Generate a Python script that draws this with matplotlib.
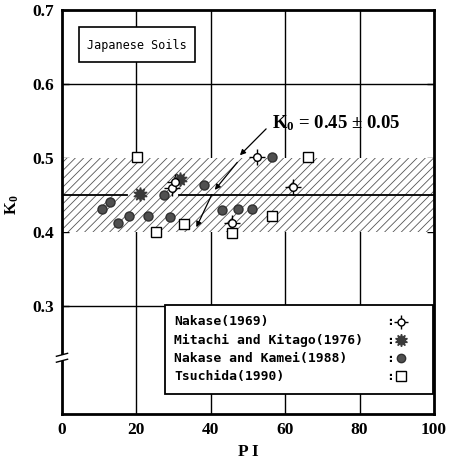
import matplotlib
matplotlib.use("Agg")
import matplotlib.pyplot as plt
from matplotlib.patches import Rectangle

# valeurs (PI, K0)
nakase_pi = [29.5, 30.5, 45.8, 52.3, 62.2]
nakase_k0 = [0.460, 0.467, 0.412, 0.502, 0.461]

mitachi_pi = [21.0, 31.7]
mitachi_k0 = [0.452, 0.471]

kamei_pi = [10.7, 12.9, 15.1, 18.1, 23.2, 27.5, 29.0, 38.2, 43.1, 47.4, 51.0, 56.4]
kamei_k0 = [0.431, 0.441, 0.412, 0.421, 0.421, 0.450, 0.420, 0.463, 0.430, 0.431, 0.431, 0.501]

tsuchida_pi = [20.1, 25.2, 32.9, 45.8, 56.4, 66.2]
tsuchida_k0 = [0.502, 0.400, 0.411, 0.398, 0.421, 0.502]

k0_mean = 0.45
k0_band = 0.05

x_ticks = [0, 20, 40, 60, 80, 100]
y_ticks = [0.3, 0.4, 0.5, 0.6, 0.7]

legend_labels = ["Nakase(1969)", "Mitachi and Kitago(1976)",
                 "Nakase and Kamei(1988)", "Tsuchida(1990)"]

plt.rcParams['mathtext.fontset'] = 'custom'
plt.rcParams['mathtext.rm'] = 'Liberation Serif:bold'
plt.rcParams['mathtext.it'] = 'Liberation Serif:bold'
plt.rcParams['mathtext.bf'] = 'Liberation Serif:bold'
plt.rcParams['hatch.linewidth'] = 0.6
plt.rcParams['hatch.color'] = '#555555'

fig = plt.figure(figsize=(4.5, 4.65), dpi=100)
ax = fig.add_axes([62/450, 51/465, 372/450, 404/465])

ax.set_xlim(0, 100)
ax.set_ylim(0.154, 0.7)

# grille
for x in x_ticks[1:-1]:
    ax.axvline(x, color='black', lw=1.0, zorder=1)
for y in [0.3, 0.6]:
    ax.axhline(y, color='black', lw=1.0, zorder=1)

# bande K0 = 0.45 +- 0.05
ax.axhspan(k0_mean - k0_band, k0_mean + k0_band, facecolor='white',
           edgecolor='#555555', hatch='////', lw=0, zorder=2)
ax.plot([0, 17.5], [k0_mean, k0_mean], color='black', lw=1.3, zorder=3)
ax.plot([31.5, 100], [k0_mean, k0_mean], color='black', lw=1.3, zorder=3)

# points
ax.plot(nakase_pi, nakase_k0, linestyle='none', marker='+', ms=11, mew=1.0,
        color='black', zorder=5)
ax.plot(nakase_pi, nakase_k0, linestyle='none', marker='o', ms=5.5, mfc='white',
        mec='black', mew=1.0, zorder=6)
ax.plot(mitachi_pi, mitachi_k0, linestyle='none', marker=(10, 1, 0), ms=10,
        color='#3a3a3a', mec='#3a3a3a', zorder=5)
ax.plot(kamei_pi, kamei_k0, linestyle='none', marker='o', ms=6.5,
        color='#505050', mec='#303030', zorder=5)
ax.plot(tsuchida_pi, tsuchida_k0, linestyle='none', marker='s', ms=7,
        mfc='white', mec='black', mew=1.0, zorder=5)

# annotation et fleches
ax.text(56.5, 0.547, 'K$_0$ = 0.45 ± 0.05', fontsize=13.5, fontweight='bold',
        family='Liberation Serif', va='center', ha='left', zorder=7)
arrow = dict(arrowstyle='-|>', color='black', lw=0.9, mutation_scale=8)
ax.annotate('', xy=(47.3, 0.501), xytext=(55.4, 0.542), arrowprops=arrow, zorder=7)
ax.annotate('', xy=(40.6, 0.454), xytext=(47.6, 0.497), arrowprops=arrow, zorder=7)
ax.annotate('', xy=(35.8, 0.403), xytext=(40.6, 0.454), arrowprops=arrow, zorder=7)

# boite "Japanese Soils"
ax.add_patch(Rectangle((0.046, 0.871), 0.312, 0.087, transform=ax.transAxes,
                       facecolor='white', edgecolor='black', lw=1.2, zorder=8))
ax.text(0.202, 0.913, 'Japanese Soils', transform=ax.transAxes, fontsize=8.5,
        family='DejaVu Sans Mono', ha='center', va='center', zorder=9)

# legende
ax.add_patch(Rectangle((0.277, 0.05), 0.72, 0.22, transform=ax.transAxes,
                       facecolor='white', edgecolor='black', lw=1.3, zorder=8))
rows = [0.228, 0.183, 0.138, 0.093]
for lab, yy in zip(legend_labels, rows):
    ax.text(0.302, yy, lab, transform=ax.transAxes, fontsize=9.4,
            family='DejaVu Sans Mono', fontweight='bold', va='center', zorder=9)
    ax.text(0.872, yy, ':', transform=ax.transAxes, fontsize=9.4,
            family='DejaVu Sans Mono', fontweight='bold', va='center', zorder=9)
mx = 0.91
ax.plot([mx], [rows[0]], transform=ax.transAxes, marker='+', ms=10, mew=1.0,
        color='black', zorder=10)
ax.plot([mx], [rows[0]], transform=ax.transAxes, marker='o', ms=5, mfc='white',
        mec='black', mew=1.0, zorder=11)
ax.plot([mx], [rows[1]], transform=ax.transAxes, marker=(10, 1, 0), ms=9,
        color='#3a3a3a', zorder=10)
ax.plot([mx], [rows[2]], transform=ax.transAxes, marker='o', ms=6,
        color='#505050', mec='#303030', zorder=10)
ax.plot([mx], [rows[3]], transform=ax.transAxes, marker='s', ms=6.5,
        mfc='white', mec='black', mew=1.0, zorder=10)

# axes
for s in ax.spines.values():
    s.set_linewidth(2.0)
    s.set_zorder(12)
ax.set_xticks(x_ticks)
ax.set_yticks(y_ticks)
ax.set_xticklabels([str(v) for v in x_ticks])
ax.set_yticklabels(['%.1f' % v for v in y_ticks])
ax.tick_params(axis='both', direction='in', length=5, width=1.0,
               left=True, right=True, top=False, bottom=False, pad=6)
for lab in ax.get_xticklabels() + ax.get_yticklabels():
    lab.set_family('Liberation Serif')
    lab.set_fontweight('bold')
    lab.set_fontsize(12.5)

ax.set_xlabel('P I', fontsize=12.5, fontweight='bold', family='Liberation Serif',
              labelpad=4)
fig.text(12/450, 1 - 205/465, 'K$_0$', rotation=90, fontsize=12,
         fontweight='bold', family='Liberation Serif', ha='center', va='center')

# coupure de l'axe y
yb = 0.23
ax.add_patch(Rectangle((-0.012, yb - 0.004), 0.024, 0.008, transform=ax.get_yaxis_transform(),
                       facecolor='white', edgecolor='none', clip_on=False, zorder=13))
for dy in (-0.004, 0.004):
    ax.plot([-0.015, 0.015], [yb + dy - 0.002, yb + dy + 0.002],
            transform=ax.get_yaxis_transform(), color='black', lw=1.0,
            clip_on=False, zorder=14)

fig.savefig('out.png', dpi=100)
